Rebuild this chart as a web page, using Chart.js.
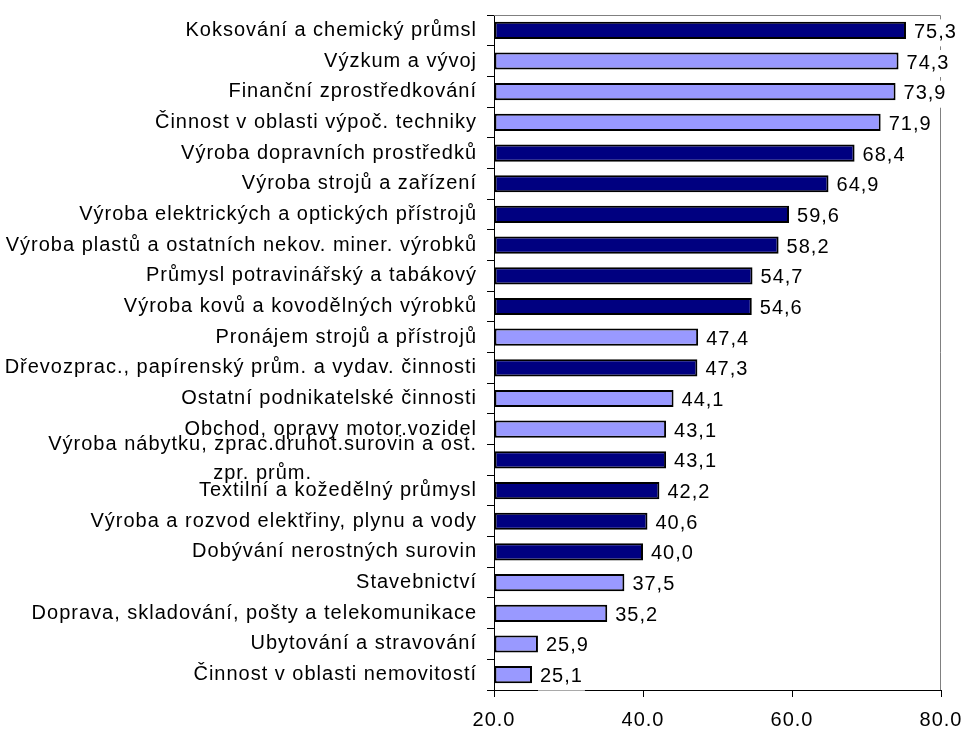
<!DOCTYPE html>
<html>
<head>
<meta charset="utf-8">
<script src="https://cdn.jsdelivr.net/npm/chart.js"></script>
<style>
  html, body { margin: 0; padding: 0; background: #fff; }
</style>
</head>
<body>
<canvas id="chart" width="962" height="729"></canvas>
<script>
categories = [
    "Koksování a chemický průmsl",
    "Výzkum a vývoj",
    "Finanční zprostředkování",
    "Činnost v oblasti výpoč. techniky",
    "Výroba dopravních prostředků",
    "Výroba strojů a zařízení",
    "Výroba elektrických a optických přístrojů",
    "Výroba plastů a ostatních nekov. miner. výrobků",
    "Průmysl potravinářský a tabákový",
    "Výroba kovů a kovodělných výrobků",
    "Pronájem strojů a přístrojů",
    "Dřevozprac., papírenský prům. a vydav. činnosti",
    "Ostatní podnikatelské činnosti",
    "Obchod, opravy motor.vozidel",
    ["Výroba nábytku, zprac.druhot.surovin a ost.", "zpr. prům."],
    "Textilní a kožedělný průmysl",
    "Výroba a rozvod elektřiny, plynu a vody",
    "Dobývání nerostných surovin",
    "Stavebnictví",
    "Doprava, skladování, pošty a telekomunikace",
    "Ubytování a stravování",
    "Činnost v oblasti nemovitostí"
];
values = [75.3, 74.3, 73.9, 71.9, 68.4, 64.9, 59.6, 58.2, 54.7, 54.6, 47.4,
          47.3, 44.1, 43.1, 43.1, 42.2, 40.6, 40.0, 37.5, 35.2, 25.9, 25.1];
// průmysl = tmavé sloupce, služby = světlé
sector = ["P", "S", "S", "S", "P", "P", "P", "P", "P", "P", "S",
          "P", "S", "S", "P", "P", "P", "P", "S", "S", "S", "S"];
xTicks = [20, 40, 60, 80];

FAMILY = '"Liberation Sans", Arial, sans-serif';
FONT = '20px ' + FAMILY;
SPACING = '1px';
colors = {P: '#000080', S: '#9999FF'};

// extra letter spacing like the original rendering
var spacingPlugin = {
    id: 'spacing',
    beforeUpdate: function(chart) { chart.ctx.letterSpacing = SPACING; },
    beforeDraw: function(chart) { chart.ctx.letterSpacing = SPACING; }
};

// gray top + right frame of plot area
var framePlugin = {
    id: 'frame',
    beforeDatasetsDraw: function(chart) {
        var a = chart.chartArea, ctx = chart.ctx;
        ctx.save();
        ctx.strokeStyle = '#808080';
        ctx.lineWidth = 1;
        ctx.beginPath();
        ctx.moveTo(a.left, a.top + 0.5);
        ctx.lineTo(a.right - 0.5, a.top + 0.5);
        ctx.lineTo(a.right - 0.5, a.bottom);
        ctx.stroke();
        ctx.restore();
    }
};

// value labels with white box + the two-line category label
var labelPlugin = {
    id: 'labels',
    afterDraw: function(chart) {
        var ctx = chart.ctx;
        var meta = chart.getDatasetMeta(0);
        ctx.save();
        ctx.font = FONT;
        ctx.letterSpacing = SPACING;
        ctx.textBaseline = 'middle';
        meta.data.forEach(function(bar, i) {
            var txt = values[i].toFixed(1).replace('.', ',');
            var w = ctx.measureText(txt).width;
            var x = bar.x + 8, y = bar.y + 2;
            ctx.fillStyle = '#fff';
            ctx.fillRect(x - 2, y - 13, w + 4, 27);
            ctx.fillStyle = '#000';
            ctx.textAlign = 'left';
            ctx.fillText(txt, x, y);
        });

        var yScale = chart.scales.y;
        categories.forEach(function(c, i) {
            if (!Array.isArray(c)) return;
            var yc = yScale.getPixelForValue(i);
            var right = yScale.right - 7 - 10;
            var w0 = ctx.measureText(c[0]).width;
            var mid = right - w0 / 2;
            ctx.fillStyle = '#000';
            ctx.textAlign = 'center';
            ctx.fillText(c[0], mid, yc - 15);
            ctx.fillText(c[1], mid, yc + 14);
        });
        ctx.restore();
    }
};

function noPad(s) {
    s.paddingTop = 0;
    s.paddingBottom = 0;
    s.paddingLeft = 0;
    s.paddingRight = 0;
}

var ctx = document.getElementById('chart').getContext('2d');
new Chart(ctx, {
    type: 'bar',
    data: {
        labels: categories,
        datasets: [{
            data: values,
            base: xTicks[0],
            backgroundColor: sector.map(function(s) { return colors[s]; }),
            borderColor: '#000',
            borderWidth: 2,
            borderSkipped: false,
            categoryPercentage: 1,
            barPercentage: 0.56
        }]
    },
    options: {
        indexAxis: 'y',
        responsive: false,
        animation: false,
        devicePixelRatio: 1,
        layout: { padding: { top: 15, right: 21, left: 0, bottom: 0 } },
        plugins: { legend: { display: false }, tooltip: { enabled: false } },
        scales: {
            x: {
                min: xTicks[0],
                max: xTicks[xTicks.length - 1],
                afterBuildTicks: function(scale) {
                    scale.ticks = xTicks.map(function(v) { return {value: v}; });
                },
                ticks: {
                    color: '#000',
                    font: { family: FAMILY, size: 20 },
                    padding: 11,
                    maxRotation: 0,
                    callback: function(v) { return Number(v).toFixed(1); }
                },
                grid: { drawOnChartArea: false, drawTicks: true, tickLength: 7, color: '#000' },
                border: { color: '#000', width: 1 },
                afterFit: function(s) { s.height = 39; noPad(s); }
            },
            y: {
                ticks: {
                    autoSkip: false,
                    color: '#000',
                    font: { family: FAMILY, size: 20 },
                    padding: 10,
                    callback: function(v, i) {
                        return Array.isArray(categories[i]) ? '' : categories[i];
                    }
                },
                grid: { drawOnChartArea: false, drawTicks: true, tickLength: 7, color: '#000', offset: true },
                border: { color: '#000', width: 1 },
                afterFit: function(s) { s.width = 494; noPad(s); }
            }
        }
    },
    plugins: [spacingPlugin, framePlugin, labelPlugin]
});
</script>
</body>
</html>
